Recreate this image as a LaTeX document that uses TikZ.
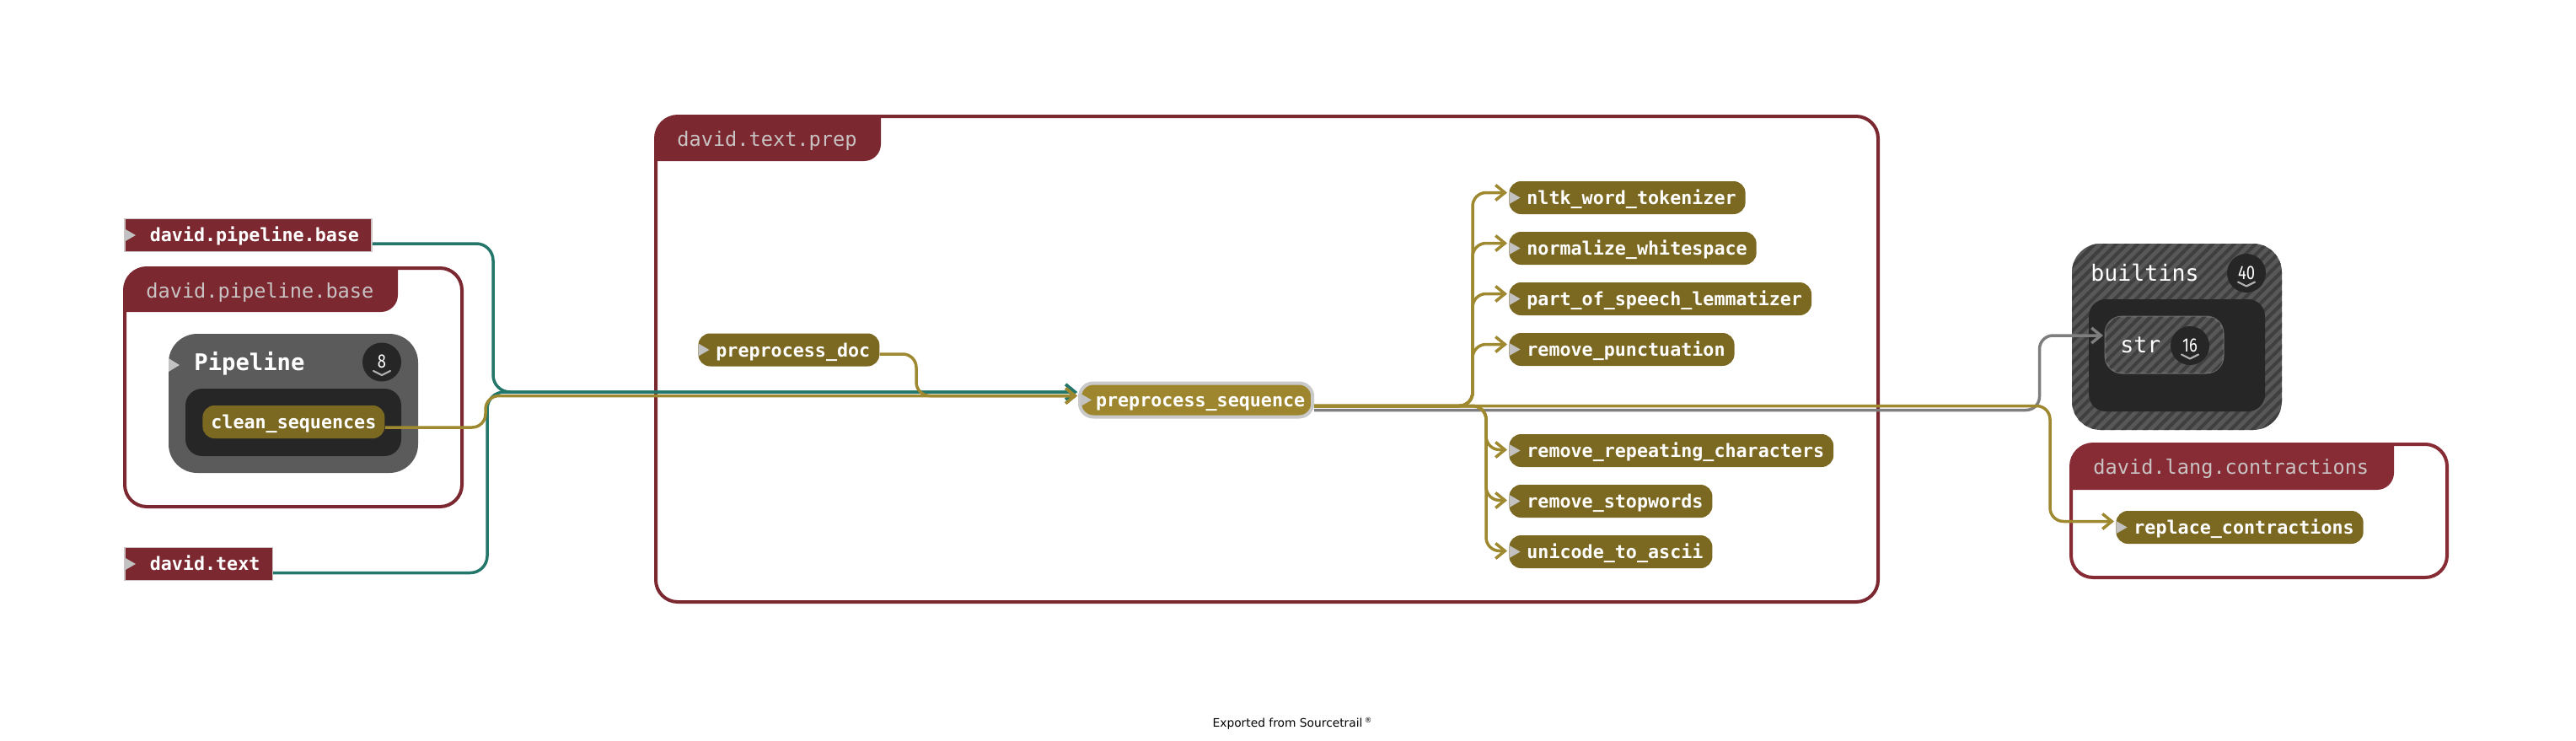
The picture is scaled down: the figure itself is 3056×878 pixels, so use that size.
\documentclass[tikz,border=0pt]{standalone}
\usepackage{fontspec}
\setmonofont{DejaVu Sans Mono}
\newfontfamily\dvsans{DejaVu Sans}
\newfontfamily\firasans{Fira Sans}
\usetikzlibrary{arrows.meta,calc,patterns.meta}

\definecolor{grpred}{HTML}{7B2830}
\definecolor{grpredb}{HTML}{872C35}
\definecolor{hdrtxt}{HTML}{C9C3C3}
\definecolor{olvnode}{HTML}{7B6821}
\definecolor{olvsel}{HTML}{9D862D}
\definecolor{olvline}{HTML}{9E8830}
\definecolor{tealline}{HTML}{22766A}
\definecolor{grayline}{HTML}{7E7E7E}
\definecolor{trigray}{HTML}{C2C2C2}
\definecolor{boxgray}{HTML}{5B5B5B}
\definecolor{boxdark}{HTML}{262626}
\definecolor{stripeA}{HTML}{585858}
\definecolor{stripeB}{HTML}{3F3F3F}
\definecolor{tagborder}{HTML}{CFC4C4}
\definecolor{selborder}{HTML}{C9C9C9}
\definecolor{chevgray}{HTML}{B0B0B0}
\definecolor{strborder}{HTML}{6A6A6A}

\newcommand\fnfont{\fontsize{10.85pt}{12pt}\selectfont\ttfamily\bfseries}
\newcommand\mytri[2]{\fill[trigray] ($(#1.west)+(#2,-7.5)$) -- ($(#1.west)+(#2+13,0)$) -- ($(#1.west)+(#2,7.5)$) -- cycle;}
\newcommand\mybadge[4]{%
  \node[circle,fill=boxdark,minimum size=23pt,inner sep=0pt] (#1) at (#2,#3) {};
  \node[anchor=base,inner sep=0pt,text=white,font=\firasans\fontsize{11.5pt}{12pt}\selectfont] (#1t) at ($(#1.center)+(0,7)$) {\scalebox{0.8}[1]{#4}};
  \draw[chevgray,line width=1.1pt,line join=round,line cap=round] ($(#1.center)+(-10,10.5)$) -- ($(#1.center)+(0,15.5)$) -- ($(#1.center)+(10,10.5)$);}

\begin{document}
\begin{tikzpicture}[x=0.5pt,y=-0.5pt,
  grpline/.style={draw=#1,line width=2pt,rounded corners=13pt},
  hdr/.style={anchor=base west,text=hdrtxt,inner sep=0pt,font=\fontsize{11.8pt}{13pt}\selectfont\ttfamily},
  fn/.style={anchor=west,fill=olvnode,rounded corners=7pt,minimum height=19.5pt,inner xsep=5.5pt,inner ysep=0pt,text=white,font=\fnfont,text height=9.3pt,text depth=1pt},
  tagbox/.style={anchor=west,fill=grpred,draw=tagborder,line width=0.8pt,minimum height=19.6pt,inner xsep=7.5pt,inner ysep=0pt,text=white,font=\fnfont,text height=9pt,text depth=1.5pt},
  conn/.style={line width=1.75pt,rounded corners=8pt},
  arrowed/.style={-{Straight Barb[length=5.5pt,width=9pt]}},
  olv/.style={conn,draw=olvline},
  tl/.style={conn,draw=tealline},
  gl/.style={conn,draw=grayline},
  striped/.style={fill=stripeA,postaction={pattern={Lines[angle=45,distance=4.5pt,line width=2pt]},pattern color=stripeB}},
  bigtxt/.style={anchor=base west,inner sep=0pt,text=white,font=\fontsize{13.3pt}{15pt}\selectfont\ttfamily}
]
\fill[white] (0,0) rectangle (3056,878);
\useasboundingbox (0,0) rectangle (3056,878);

% ---------- groups ----------
% david.pipeline.base
\fill[grpred] (148,370) -- (148,344) arc[start angle=180,end angle=90,radius=13pt] -- (472,318) -- (472,350) arc[start angle=0,end angle=-90,radius=10pt] -- cycle;
\draw[grpline=grpred] (148,318) rectangle (548,601);
\node[hdr] (hpb) at (173,353) {david.pipeline.base};
% david.text.prep
\fill[grpred] (778,191) -- (778,164) arc[start angle=180,end angle=90,radius=13pt] -- (1045,138) -- (1045,171) arc[start angle=0,end angle=-90,radius=10pt] -- cycle;
\draw[grpline=grpred] (778,138) rectangle (2228,714);
\node[hdr] (htp) at (803,173) {david.text.prep};
% david.lang.contractions
\fill[grpredb] (2457,581) -- (2457,553) arc[start angle=180,end angle=90,radius=13pt] -- (2840,527) -- (2840,561) arc[start angle=0,end angle=-90,radius=10pt] -- cycle;
\draw[grpline=grpredb] (2457,527) rectangle (2903,685);
\node[hdr] (hlc) at (2483,562) {david.lang.contractions};

% ---------- Pipeline class ----------
\node[fill=boxgray,rounded corners=17pt,minimum width=148pt,minimum height=82.5pt,inner sep=0pt] (pipebox) at (348,478.5) {};
\node[fill=boxdark,rounded corners=10pt,minimum width=128pt,minimum height=40pt,inner sep=0pt] (pipeinner) at (348,501) {};
\fill[trigray] (200,425) -- (213,433) -- (200,441) -- cycle;
\node[bigtxt,font=\fontsize{13.6pt}{15pt}\selectfont\ttfamily\bfseries] (pipetxt) at (230,439) {Pipeline};
\mybadge{b8}{453}{429.5}{8}
\node[fn,inner xsep=5pt] (clean) at (240,500.5) {clean\_sequences};

% ---------- builtins ----------
\node[striped,rounded corners=17pt,minimum width=124.5pt,minimum height=110.5pt,inner sep=0pt] (bbox) at (2582.5,399.5) {};
\node[fill=boxdark,rounded corners=10pt,minimum width=104.5pt,minimum height=66.5pt,inner sep=0pt] (binner) at (2582.5,421.5) {};
\node[bigtxt] (btxt) at (2480,333) {builtins};
\mybadge{b40}{2665}{324}{40}
\node[striped,draw=strborder,line width=1pt,rounded corners=10pt,minimum width=70pt,minimum height=33.5pt,inner sep=0pt] (str) at (2567.5,409) {};
\node[bigtxt] (strtxt) at (2515,418) {str};
\mybadge{b16}{2598}{410}{16}

% ---------- tags ----------
\node[tagbox] (tagpb) at (147,279) {\hspace{7.5pt}david.pipeline.base};
\mytri{tagpb}{1}
\node[tagbox] (tagdt) at (147,669) {\hspace{7.5pt}david.text};
\mytri{tagdt}{1}

% ---------- function nodes ----------
\node[fn] (pdoc) at (828,415) {\hspace{5pt}preprocess\_doc};
\mytri{pdoc}{0.5}
\node[anchor=west,fill=olvsel,draw=selborder,line width=2pt,rounded corners=8pt,minimum height=20pt,inner xsep=4.5pt,inner ysep=0pt,text=white,font=\fnfont,text height=9.3pt,text depth=1pt] (pseq) at (1279,474.5) {\hspace{5pt}preprocess\_sequence};
\mytri{pseq}{3}
\node[fn] (nltk) at (1790,234.5) {\hspace{5pt}nltk\_word\_tokenizer};
\node[fn] (norm) at (1790,294.5) {\hspace{5pt}normalize\_whitespace};
\node[fn] (pos) at (1790,354.5) {\hspace{5pt}part\_of\_speech\_lemmatizer};
\node[fn] (punct) at (1790,414.5) {\hspace{5pt}remove\_punctuation};
\node[fn] (rrc) at (1790,534.5) {\hspace{5pt}remove\_repeating\_characters};
\node[fn] (stop) at (1790,594.5) {\hspace{5pt}remove\_stopwords};
\node[fn] (uni) at (1790,654.5) {\hspace{5pt}unicode\_to\_ascii};
\foreach \n in {nltk,norm,pos,punct,rrc,stop,uni} {\mytri{\n}{0.5}}
\node[fn] (rc) at (2510,625.5) {\hspace{5pt}replace\_contractions};
\mytri{rc}{0.5}

% ---------- connectors ----------
\draw[tl,arrowed,rounded corners=10pt] ($(tagpb.east)+(0,10)$) -| (585,465) -- ($(pseq.west)+(-1,-9.5)$);
\draw[tl,arrowed,rounded corners=10pt] ($(tagdt.east)+(0,10.5)$) -| (578,465) -- ($(pseq.west)+(-1,-9.5)$);
\draw[gl,arrowed] ($(pseq.east)+(0,12)$) -| ($(str.west)+(-77,-11)$) -- ($(str.west)+(-1.5,-11)$);
\draw[olv,arrowed] ($(clean.east)+(0,6.5)$) -| (576,469.5) -- ($(pseq.west)+(-1,-5)$);
\draw[olv,arrowed] ($(pdoc.east)+(0,5)$) -| (1087,469.5) -- ($(pseq.west)+(-1,-5)$);
\foreach \n in {nltk,norm,pos,punct}
  {\draw[olv,arrowed] ($(pseq.east)+(0,7)$) -| ($(\n.west)+(-43,-6)$) -- ($(\n.west)+(-2,-6)$);}
\foreach \n in {rrc,stop,uni}
  {\draw[olv,arrowed] ($(pseq.east)+(0,7)$) -| ($(\n.west)+(-27,-1)$) -- ($(\n.west)+(-2,-1)$);}
\draw[olv,arrowed] ($(pseq.east)+(0,7)$) -| ($(rc.west)+(-78,-7)$) -- ($(rc.west)+(-2,-7)$);

% ---------- footer ----------
\node[inner sep=0pt,font=\dvsans\fontsize{6.9pt}{8pt}\selectfont] (exp) at (1533,858) {Exported from Sourcetrail\,\raisebox{2.6pt}{\fontsize{4.3pt}{5pt}\selectfont ®}};
\end{tikzpicture}
\end{document}
